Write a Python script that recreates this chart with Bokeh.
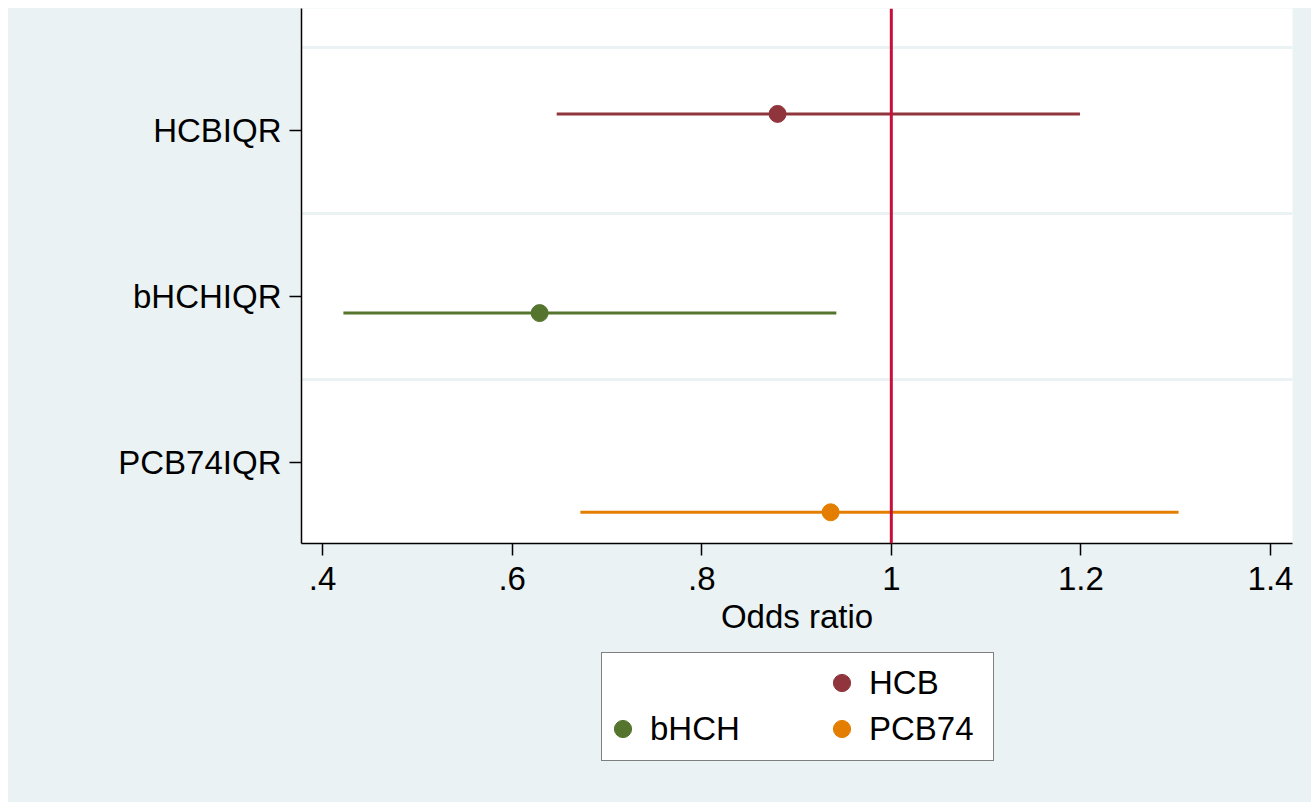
from bokeh.plotting import figure
from bokeh.layouts import column
from bokeh.models import Range1d, FixedTicker, Span, Legend, LegendItem
from bokeh.embed import file_html
from bokeh.resources import INLINE

# ---- data ----
categories = ["HCBIQR", "bHCHIQR", "PCB74IQR"]
series = ["HCB", "bHCH", "PCB74"]
odds_ratio = [0.880, 0.629, 0.936]
ci_low = [0.647, 0.422, 0.672]
ci_high = [1.199, 0.942, 1.303]
x_ticks = [0.4, 0.6, 0.8, 1.0, 1.2, 1.4]
x_tick_labels = [".4", ".6", ".8", "1", "1.2", "1.4"]

# ---- style / positions ----
series_offset = [-0.1, 0.1, 0.3]
colors = ["#90353B", "#55752F", "#E37E00"]
BG = "#EAF2F3"
FONT = "Liberation Sans"
FS = "33px"
W = 1303

cat_pos = [i + 1 for i in range(len(categories))]

p = figure(width=W, height=630, output_backend="svg", toolbar_location=None,
           x_range=Range1d(0.3778, 1.4232), y_range=Range1d(3.488, 0.265),
           background_fill_color="white", border_fill_color=BG,
           min_border_left=293, min_border_right=19, min_border_top=0,
           min_border_bottom=95)
p.outline_line_color = None

renderers = []
for i, name in enumerate(series):
    y = cat_pos[i] + series_offset[i]
    p.segment(x0=[ci_low[i]], y0=[y], x1=[ci_high[i]], y1=[y],
              line_color=colors[i], line_width=3)
    r = p.scatter(x=[odds_ratio[i]], y=[y], size=17, marker="circle",
                  fill_color=colors[i], line_color=colors[i])
    renderers.append(r)

p.add_layout(Span(location=1.0, dimension="height", line_color="#C80F3C", line_width=3))

# axes
p.xaxis.ticker = FixedTicker(ticks=x_ticks)
p.xaxis.major_label_overrides = {t: l for t, l in zip(x_ticks, x_tick_labels)}
p.xaxis.axis_label = "Odds ratio"
p.yaxis.ticker = FixedTicker(ticks=cat_pos)
p.yaxis.major_label_overrides = {c: l for c, l in zip(cat_pos, categories)}
for ax in (p.xaxis[0], p.yaxis[0]):
    ax.axis_line_color = "black"
    ax.axis_line_width = 1.5
    ax.major_tick_line_color = "black"
    ax.major_tick_line_width = 1.5
    ax.major_tick_out = 12
    ax.major_tick_in = 0
    ax.minor_tick_out = 0
    ax.minor_tick_in = 0
    ax.major_label_text_font = FONT
    ax.major_label_text_font_size = FS
    ax.major_label_text_color = "black"
    ax.axis_label_text_font = FONT
    ax.axis_label_text_font_size = FS
    ax.axis_label_text_font_style = "normal"
    ax.axis_label_text_color = "black"
p.xaxis.major_label_standoff = 11
p.xaxis.axis_label_standoff = 5
p.yaxis.major_label_standoff = 8
p.yaxis.major_label_orientation = "horizontal"

p.xgrid.grid_line_color = None
p.ygrid.ticker = FixedTicker(ticks=[0.5, 1.5, 2.5])
p.ygrid.grid_line_color = BG
p.ygrid.grid_line_width = 3

# ---- legend panel below the plot ----
lp = figure(width=W, height=164, output_backend="svg", toolbar_location=None,
            x_axis_type=None, y_axis_type=None,
            x_range=Range1d(-2, -1), y_range=Range1d(-2, -1),
            background_fill_color=None, border_fill_color=None,
            min_border=0, min_border_left=0, min_border_right=0,
            min_border_top=0, min_border_bottom=0)
lp.outline_line_color = None
lp.grid.visible = False

# key glyphs (their points lie outside this panel's visible range)
blank = lp.scatter(x=[0], y=[0], fill_alpha=0, line_alpha=0)
keys = [lp.scatter(x=[odds_ratio[i]], y=[0], size=17, marker="circle",
                   fill_color=colors[i], line_color=colors[i]) for i in range(len(series))]

common = dict(orientation="vertical", glyph_width=43, glyph_height=43,
              label_standoff=6, spacing=3, margin=0,
              label_text_font=FONT, label_text_font_size=FS,
              label_text_color="black")
box = Legend(items=[LegendItem(label=" ", renderers=[blank]),
                    LegendItem(label=" ", renderers=[blank])],
             location=(300, 41), padding=9, label_width=324,
             border_line_color="black", border_line_width=1.5,
             background_fill_color="white", background_fill_alpha=1.0, **common)
col1 = Legend(items=[LegendItem(label=" ", renderers=[blank]),
                     LegendItem(label=series[1], renderers=[keys[1]])],
              location=(300, 52), padding=0, label_width=100,
              border_line_color=None, background_fill_alpha=0.0, **common)
col2 = Legend(items=[LegendItem(label=series[0], renderers=[keys[0]]),
                     LegendItem(label=series[2], renderers=[keys[2]])],
              location=(519, 52), padding=0, label_width=100,
              border_line_color=None, background_fill_alpha=0.0, **common)
for lg in (box, col1, col2):
    lp.add_layout(lg)

layout = column(p, lp, spacing=0, margin=(8, 0, 0, 8),
                styles={"background-color": BG})
open("out.html", "w").write(file_html(layout, INLINE))
